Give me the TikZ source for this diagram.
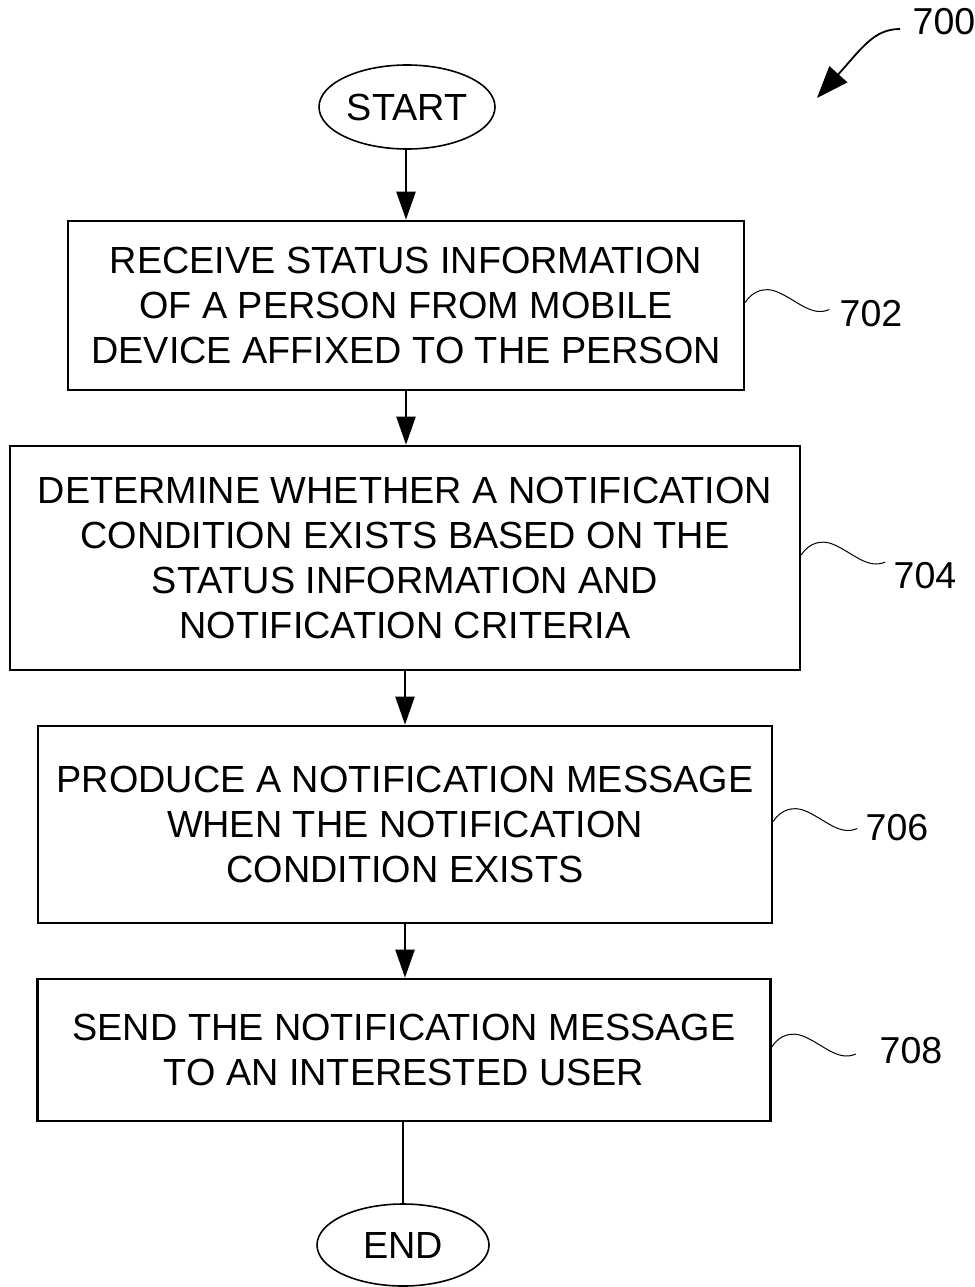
\documentclass[tikz,border=0pt]{standalone}
\usepackage{fontspec}
\setmainfont{Liberation Sans}
\usetikzlibrary{shapes.geometric,arrows.meta}
\begin{document}
\begin{tikzpicture}[x=1pt,y=-1pt,
  txt/.style={font=\fontsize{37.8}{45}\selectfont, align=center},
  stepbox/.style={draw, line width=2.6pt, rectangle, inner sep=0pt, txt},
  term/.style={draw, line width=1.6pt, ellipse, inner sep=0pt, txt},
  flow/.style={line width=2.2pt, -{Triangle[length=28pt,width=19pt]}},
  lab/.style={font=\fontsize{37.5}{44}\selectfont},
  squig/.pic={\draw[line width=1pt] (0,0) .. controls (8,-13) and (21,-15) .. (31,-11) .. controls (51,-3) and (66,15) .. (84,7);}
]
\useasboundingbox (0,0) rectangle (974,1287);

\node[term, minimum width=176pt, minimum height=84pt] (start) at (407,107) {START};

\node[stepbox, minimum width=676pt, minimum height=169pt] (b702) at (406,305.5)
  {RECEIVE STATUS INFORMATION\\OF A PERSON FROM MOBILE\\DEVICE AFFIXED TO THE PERSON};

\node[stepbox, minimum width=790pt, minimum height=224pt] (b704) at (405,558)
  {DETERMINE WHETHER A NOTIFICATION\\CONDITION EXISTS BASED ON THE\\STATUS INFORMATION AND\\NOTIFICATION CRITERIA};

\node[stepbox, minimum width=734pt, minimum height=197pt] (b706) at (405,824.5)
  {PRODUCE A NOTIFICATION MESSAGE\\WHEN THE NOTIFICATION\\CONDITION EXISTS};

\node[stepbox, minimum width=733pt, minimum height=142pt] (b708) at (404,1050)
  {SEND THE NOTIFICATION MESSAGE\\TO AN INTERESTED USER};

\node[term, minimum width=172pt, minimum height=82pt] (end) at (403,1245) {END};

\draw[flow] (start.south -| b702.north) -- (b702.north);
\draw[flow] (b702.south) -- (b702.south |- b704.north);
\draw[flow] (b704.south) -- (b704.south |- b706.north);
\draw[flow] (b706.south) -- (b706.south |- b708.north);
\draw[line width=2pt] (b708.south -| end.north) -- (end.north);

\pic at ([yshift=3pt]b702.east) {squig};
\pic at ([yshift=3pt]b704.east) {squig};
\pic at ([yshift=3pt]b706.east) {squig};
\pic at ([yshift=3pt]b708.east) {squig};

\node[lab] (l702) at (871,314) {702};
\node[lab] (l704) at (925,576) {704};
\node[lab] (l706) at (897,828) {706};
\node[lab] (l708) at (911,1051) {708};
\node[lab] (l700) at (944,22) {700};

\coordinate (a700s) at (900,29);
\coordinate (a700e) at (817,98);
\draw[line width=1.8pt, -{Triangle[length=32pt,width=24pt]}] (a700s) .. controls (874,29) and (862,48) .. (a700e);
\end{tikzpicture}
\end{document}
